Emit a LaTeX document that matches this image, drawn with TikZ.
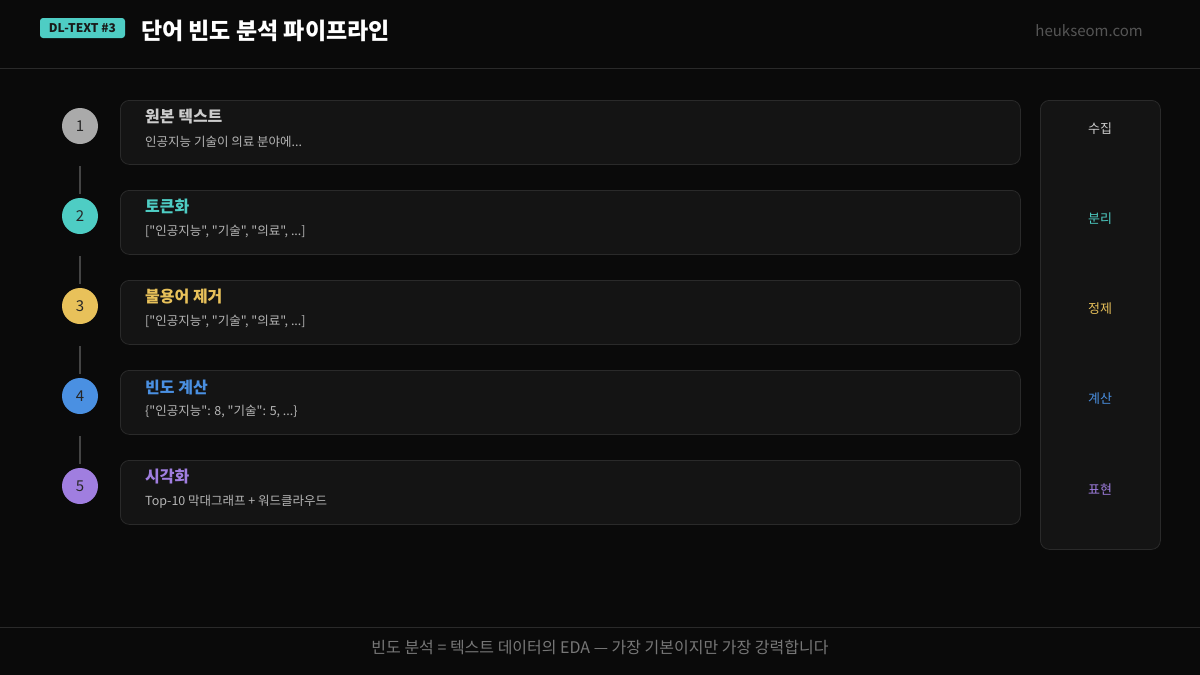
\documentclass[tikz,border=0pt]{standalone}
\usepackage{fontspec}
\setmainfont{Noto Sans CJK KR}[Ligatures=TeXOff]
\newcommand{\dq}{\char34\relax}
\definecolor{bgc}{HTML}{0A0A0A}
\definecolor{cardc}{HTML}{141414}
\definecolor{cardline}{HTML}{2A2A2A}
\definecolor{rulec}{HTML}{2A2A2A}
\definecolor{sgray}{HTML}{AAAAAA}
\definecolor{steal}{HTML}{4ECDC4}
\definecolor{syellow}{HTML}{E8C15A}
\definecolor{sblue}{HTML}{4A90E2}
\definecolor{spurple}{HTML}{A07EE0}
\definecolor{subtext}{HTML}{B5B5B5}
\definecolor{titlegray}{HTML}{CCCCCC}
\definecolor{linkc}{HTML}{444444}
\definecolor{footc}{HTML}{777777}
\definecolor{sitec}{HTML}{555555}
\tikzset{
  card/.style={draw=cardline, fill=cardc, rounded corners=9pt, line width=0.8pt, minimum width=900pt, minimum height=64pt, anchor=north west, inner sep=0pt},
  stepdot/.style={circle, fill=#1, minimum size=36pt, inner sep=0pt, font=\fontsize{15}{17}\selectfont, text=black!85},
  cardtitle/.style={anchor=west, font=\bfseries\fontsize{16}{18}\selectfont, text=#1, inner sep=0pt},
  cardsub/.style={anchor=west, font=\fontsize{12.5}{14}\selectfont, text=subtext, inner sep=0pt},
  sidelabel/.style={font=\fontsize{13}{15}\selectfont, text=#1, inner sep=0pt},
  link/.style={draw=linkc, line width=2pt},
}
\begin{document}
\begin{tikzpicture}[x=1pt,y=-1pt]
\fill[bgc] (0,0) rectangle (1200,675);
\useasboundingbox (0,0) rectangle (1200,675);
% header
\draw[rulec, line width=1pt] (0,68.5) -- (1200,68.5);
\node[fill=steal, rounded corners=3pt, minimum width=85pt, minimum height=20pt, inner sep=0pt, font=\bfseries\fontsize{12}{14}\selectfont, text=black!90] (badge) at (82.5,28) {DL-TEXT \#3};
\node[anchor=west, inner sep=0pt, font=\bfseries\fontsize{23}{27}\selectfont, text=white] (title) at (141,31) {단어 빈도 분석 파이프라인};
\node[anchor=east, inner sep=0pt, font=\fontsize{15}{18}\selectfont, text=sitec] (site) at (1143,31) {heukseom.com};
% cards
\node[card] (c1) at (120,100) {};
\node[card] (c2) at (120,190) {};
\node[card] (c3) at (120,280) {};
\node[card] (c4) at (120,370) {};
\node[card] (c5) at (120,460) {};
\node[cardtitle=titlegray] (t1) at (145,117) {원본 텍스트};
\node[cardsub] (s1) at (145,142) {인공지능 기술이 의료 분야에...};
\node[cardtitle=steal] (t2) at (145,207) {토큰화};
\node[cardsub] (s2) at (145,232) {[\dq 인공지능\dq, \dq 기술\dq, \dq 의료\dq, ...]};
\node[cardtitle=syellow] (t3) at (145,297) {불용어 제거};
\node[cardsub] (s3) at (145,322) {[\dq 인공지능\dq, \dq 기술\dq, \dq 의료\dq, ...]};
\node[cardtitle=sblue] (t4) at (145,387) {빈도 계산};
\node[cardsub] (s4) at (145,412) {\{\dq 인공지능\dq: 8, \dq 기술\dq: 5, ...\}};
\node[cardtitle=spurple] (t5) at (145,477) {시각화};
\node[cardsub] (s5) at (145,502) {Top-10 막대그래프 + 워드클라우드};
% dots
\node[stepdot=sgray] (d1) at (80,126) {1};
\node[stepdot=steal] (d2) at (80,216) {2};
\node[stepdot=syellow] (d3) at (80,306) {3};
\node[stepdot=sblue] (d4) at (80,396) {4};
\node[stepdot=spurple] (d5) at (80,486) {5};
\draw[link] ([yshift=-22pt]d1.south) -- ([yshift=4pt]d2.north);
\draw[link] ([yshift=-22pt]d2.south) -- ([yshift=4pt]d3.north);
\draw[link] ([yshift=-22pt]d3.south) -- ([yshift=4pt]d4.north);
\draw[link] ([yshift=-22pt]d4.south) -- ([yshift=4pt]d5.north);
% side panel
\node[draw=cardline, fill=cardc, rounded corners=9pt, line width=0.8pt, minimum width=120pt, minimum height=449pt, anchor=north west, inner sep=0pt] (panel) at (1040,100) {};
\node[sidelabel=titlegray] (p1) at (1100,129) {수집};
\node[sidelabel=steal] (p2) at (1100,219) {분리};
\node[sidelabel=syellow] (p3) at (1100,309) {정제};
\node[sidelabel=sblue] (p4) at (1100,399) {계산};
\node[sidelabel=spurple] (p5) at (1100,489) {표현};
% footer
\draw[rulec, line width=1pt] (0,627.5) -- (1200,627.5);
\node[inner sep=0pt, font=\fontsize{16}{19}\selectfont, text=footc] (foot) at (600,647) {빈도 분석 = 텍스트 데이터의 EDA — 가장 기본이지만 가장 강력합니다};
\end{tikzpicture}
\end{document}
